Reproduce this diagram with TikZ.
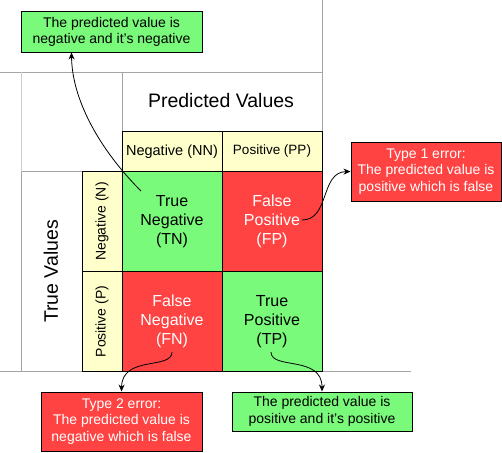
\documentclass[tikz,border=0pt]{standalone}
\usepackage{fontspec}
\setmainfont{Liberation Sans}
\usetikzlibrary{arrows.meta,calc}
\definecolor{cgreen}{RGB}{122,250,122}
\definecolor{cred}{RGB}{255,66,66}
\definecolor{cyellow}{RGB}{255,255,204}
\definecolor{cgrid}{RGB}{165,165,165}
\definecolor{cgridlight}{RGB}{205,205,205}
\begin{document}
\begin{tikzpicture}[x=1pt,y=-1pt,
  gridl/.style={draw=cgrid,line width=1pt},
  cell/.style={draw=black,line width=1pt,minimum width=100pt,minimum height=100pt,inner sep=0pt,align=center,font=\fontsize{16}{19}\selectfont},
  okcell/.style={cell,fill=cgreen,text=black},
  badcell/.style={cell,fill=cred,text=white},
  head/.style={draw=black,line width=1pt,fill=cyellow,minimum width=100pt,minimum height=40pt,inner sep=0pt},
  rowh/.style={draw=black,line width=1pt,fill=cyellow,minimum width=100pt,minimum height=40pt,inner sep=0pt,rotate=90,font=\fontsize{14}{16}\selectfont},
  box/.style={draw=black,line width=1pt,inner sep=0pt,align=center,font=\fontsize{14}{16.7}\selectfont},
  title/.style={inner sep=0pt,font=\fontsize{19.5}{22}\selectfont},
  conn/.style={draw=black,line width=0.8pt,-{Stealth[length=7pt,width=6pt]}}]
\useasboundingbox (0,0) rectangle (502,452);
% grey table lines
\draw[gridl] (322,0) -- (322,131.5);
\draw[gridl] (0,72) -- (322,72);
\draw[gridl] (122,72) -- (122,131.5);
\draw[draw=cgridlight,line width=1.6pt] (21.5,72) -- (21.5,171.5);
\draw[gridl] (21.5,171.5) -- (82,171.5);
\draw[gridl] (21.5,171.5) -- (21.5,371.5);
\draw[gridl] (0,371.5) -- (411,371.5);
% titles
\node[title] (pv) at (221,101) {Predicted Values};
\node[title,rotate=90] (tv) at (51,271.5) {True Values};
% headers
\node[head,font=\fontsize{14.5}{17}\selectfont] (hNN) at (172,151.5) {Negative (NN)};
\node[head,font=\fontsize{13.5}{16}\selectfont] (hPP) at (272,151.5) {Positive (PP)};
\node[rowh] (rN) at (102,221.5) {Negative (N)};
\node[rowh] (rP) at (102,321.5) {Positive (P)};
% matrix cells
\node[okcell] (TN) at (172,221.5) {True\\Negative\\(TN)};
\node[badcell] (FP) at (272,221.5) {False\\Positive\\(FP)};
\node[badcell] (FN) at (172,321.5) {False\\Negative\\(FN)};
\node[okcell] (TP) at (272,321.5) {True\\Positive\\(TP)};
% explanation boxes
\node[box,fill=cgreen,minimum width=181pt,minimum height=40pt] (bTN) at (111.5,32) {The predicted value is\\negative and it’s negative};
\node[box,fill=cred,text=white,minimum width=150pt,minimum height=59pt] (bFP) at (426,171.5) {Type 1 error:\\The predicted value is\\positive which is false};
\node[box,fill=cred,text=white,minimum width=161pt,minimum height=59pt] (bFN) at (121.5,421.5) {Type 2 error:\\The predicted value is\\negative which is false};
\node[box,fill=cgreen,minimum width=180pt,minimum height=39pt] (bTP) at (322,411.5) {The predicted value is\\positive and it’s positive};
% connectors
\coordinate (aTN) at (141,191);
\coordinate (aFP) at (302,220);
\coordinate (aFN) at (172,352);
\coordinate (aTP) at (271,352);
\draw[conn] (aTN) .. controls (100,150) and (72,100) .. ($(bTN.south west)+(51,0)$);
\draw[conn] (aFP) .. controls (330,220) and (320,172) .. (bFP.west);
\draw[conn] (aFN) .. controls (172,370) and (122,355) .. (bFN.north);
\draw[conn] (aTP) .. controls (271,370) and (322,355) .. (bTP.north);
\end{tikzpicture}
\end{document}
